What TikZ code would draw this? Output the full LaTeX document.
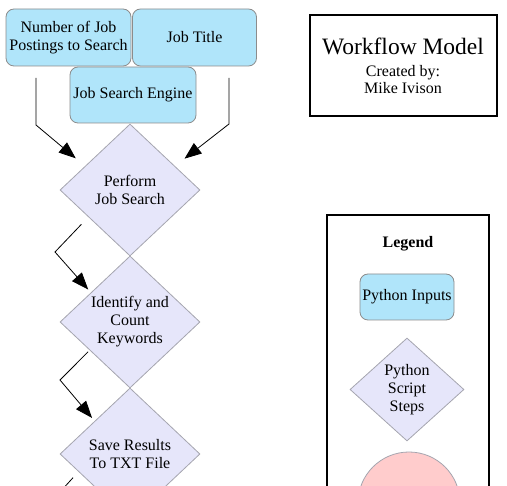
\documentclass[tikz,border=0pt]{standalone}
\usepackage{fontspec}
\setmainfont{Liberation Serif}
\usetikzlibrary{shapes.geometric,arrows.meta,calc}
\definecolor{inblue}{RGB}{176,229,250}
\definecolor{inborder}{RGB}{140,140,140}
\definecolor{steplav}{RGB}{230,230,250}
\definecolor{stepborder}{RGB}{165,165,175}
\definecolor{endred}{RGB}{255,204,204}
\tikzset{
  txt/.style={font=\fontsize{16}{18}\selectfont},
  inputbox/.style={txt, draw=inborder, line width=0.8pt, fill=inblue, rounded corners=8pt, minimum width=125pt, minimum height=57pt, align=center, inner sep=0pt},
  stepdiamond/.style={txt, diamond, draw=stepborder, line width=0.8pt, fill=steplav, minimum width=140pt, minimum height=132pt, inner sep=0pt, align=center},
  arr/.style={draw, line width=0.8pt, -{Triangle[length=17pt,width=13pt]}},
  plainline/.style={draw, line width=0.8pt},
  frame/.style={draw, line width=1.2pt},
}
\begin{document}
\begin{tikzpicture}[x=1pt,y=-1pt]
\useasboundingbox (0,0) rectangle (507,486);
\clip (0,0) rectangle (507,486);
% inputs
\node[inputbox] (num) at (68.5,37.5) {Number of Job\\Postings to Search};
\node[inputbox, minimum width=124pt] (title) at (194.5,37.5) {Job Title};
\node[inputbox, minimum width=126pt, minimum height=56pt] (engine) at (133,95) {Job Search Engine};
% steps
\node[stepdiamond] (search) at (130,190) {Perform\\Job Search};
\node[stepdiamond] (count) at (130,322) {Identify and\\Count\\Keywords};
\node[stepdiamond] (save) at (130,454) {Save Results\\To TXT File};
% connector bends
\coordinate (k1) at (36,78);
\coordinate (k2) at (36,125);
\coordinate (k3) at (229,78);
\coordinate (k4) at (229,124);
\coordinate (k5) at (55,252);
\coordinate (k6) at (60,380);
\coordinate (k7) at (40,514);
\draw[arr, shorten >=12pt] (k1) -- (k2) -- (search.152);
\draw[arr, shorten >=12pt] (k3) -- (k4) -- (search.28);
\draw[arr, shorten <=10pt, shorten >=4pt] (search.213) -- (k5) -- (count.143);
\draw[arr, shorten <=2pt, shorten >=4pt] (count.215) -- (k6) -- (save.137);
\draw[plainline, shorten <=8pt] (save.199) -- (k7);
% title block
\node[frame, minimum width=187pt, minimum height=101pt, inner sep=0pt] (titlebox) at (403.5,65.5) {};
\node[font=\fontsize{23.5}{24}\selectfont, anchor=base] (wm) at (403,55) {Workflow Model};
\node[txt, anchor=base] (cb) at (403,77) {Created by:};
\node[txt, anchor=base] (mi) at (403,94) {Mike Ivison};
% legend
\draw[frame] (327,215) rectangle (489,560);
\node[txt, font=\fontsize{16}{18}\selectfont\bfseries, anchor=base] (legtitle) at (408,248) {Legend};
\node[inputbox, minimum width=94pt, minimum height=46pt] (leginput) at (407,297) {Python Inputs};
\node[stepdiamond, minimum width=114pt, minimum height=103pt] (legstep) at (407,389.5) {Python\\Script\\Steps};
\node[circle, draw=stepborder, line width=0.8pt, fill=endred, minimum size=102pt, inner sep=0pt] (legend) at (409,503) {};
\end{tikzpicture}
\end{document}
